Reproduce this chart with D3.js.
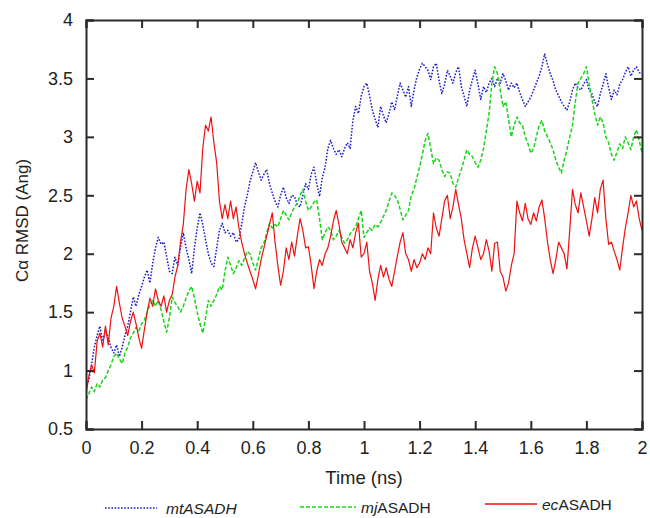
<!DOCTYPE html>
<html>
<head>
<meta charset="utf-8">
<script src="https://cdn.jsdelivr.net/npm/d3@7"></script>
<style>
  html, body { margin: 0; padding: 0; background: #fff; }
  svg { display: block; font-family: "Liberation Sans", Arial, Helvetica, sans-serif; }
</style>
</head>
<body>
<svg id="chart" width="650" height="518"></svg>
<script>
// Simulation time step (ns) and axis ticks
const timeStep = 0.01;
const xTicks = [0, 0.2, 0.4, 0.6, 0.8, 1, 1.2, 1.4, 1.6, 1.8, 2];
const yTicks = [0.5, 1, 1.5, 2, 2.5, 3, 3.5, 4];

// C-alpha RMSD (Angstrom) sampled every 0.01 ns from 0 to 2 ns
const mtASADH = [
  0.85, 0.92, 1.05, 1.20, 1.30, 1.38, 1.25, 1.35, 1.28, 1.20,
  1.15, 1.22, 1.12, 1.20, 1.30, 1.38, 1.50, 1.63, 1.55, 1.65,
  1.72, 1.80, 1.86, 1.75, 1.92, 2.05, 2.14, 2.08, 2.10, 1.98,
  1.85, 1.83, 1.97, 1.90, 2.05, 2.18, 2.05, 1.95, 1.83, 2.05,
  2.22, 2.35, 2.25, 2.12, 2.00, 1.92, 1.89, 2.05, 2.20, 2.26,
  2.18, 2.20, 2.15, 2.18, 2.10, 2.12, 2.25, 2.40, 2.50, 2.62,
  2.70, 2.78, 2.70, 2.63, 2.68, 2.72, 2.60, 2.52, 2.45, 2.40,
  2.50, 2.57, 2.48, 2.43, 2.50, 2.49, 2.42, 2.40, 2.50, 2.60,
  2.55, 2.68, 2.74, 2.60, 2.49, 2.65, 2.74, 2.90, 2.97, 2.90,
  2.85, 2.89, 2.83, 2.90, 2.95, 2.90, 3.14, 3.26, 3.20, 3.35,
  3.43, 3.46, 3.35, 3.23, 3.15, 3.08, 3.26, 3.18, 3.12, 3.20,
  3.30, 3.23, 3.35, 3.46, 3.40, 3.34, 3.43, 3.26, 3.40, 3.51,
  3.58, 3.63, 3.60, 3.57, 3.49, 3.60, 3.63, 3.48, 3.37, 3.45,
  3.57, 3.52, 3.46, 3.55, 3.60, 3.43, 3.35, 3.26, 3.40, 3.49,
  3.57, 3.45, 3.32, 3.43, 3.38, 3.46, 3.50, 3.43, 3.50, 3.46,
  3.54, 3.48, 3.40, 3.46, 3.42, 3.46, 3.38, 3.32, 3.26, 3.30,
  3.34, 3.40, 3.46, 3.52, 3.60, 3.71, 3.62, 3.54, 3.48, 3.40,
  3.35, 3.30, 3.26, 3.23, 3.30, 3.40, 3.46, 3.42, 3.40, 3.45,
  3.49, 3.40, 3.37, 3.30, 3.26, 3.37, 3.45, 3.54, 3.42, 3.32,
  3.40, 3.36, 3.45, 3.49, 3.55, 3.60, 3.52, 3.57, 3.60, 3.55,
  3.54
];

const mjASADH = [
  0.75, 0.80, 0.86, 0.82, 0.89, 0.86, 0.92, 0.94, 1.00, 1.05,
  1.12, 1.15, 1.10, 1.06, 1.15, 1.20, 1.28, 1.32, 1.37, 1.34,
  1.40, 1.43, 1.50, 1.56, 1.60, 1.55, 1.60, 1.52, 1.42, 1.33,
  1.45, 1.63, 1.58, 1.55, 1.50, 1.55, 1.62, 1.68, 1.72, 1.62,
  1.50, 1.40, 1.32, 1.45, 1.60, 1.55, 1.60, 1.65, 1.72, 1.69,
  1.85, 1.97, 1.90, 1.83, 1.88, 1.94, 1.90, 1.96, 2.02, 2.00,
  1.92, 1.86, 1.95, 2.05, 2.09, 2.18, 2.26, 2.22, 2.25, 2.23,
  2.30, 2.37, 2.33, 2.29, 2.35, 2.40, 2.43, 2.50, 2.55, 2.45,
  2.37, 2.40, 2.44, 2.46, 2.30, 2.12, 2.18, 2.23, 2.20, 2.12,
  2.15, 2.20, 2.14, 2.09, 2.12, 2.17, 2.20, 2.23, 2.30, 2.37,
  2.14, 2.18, 2.22, 2.20, 2.25, 2.23, 2.27, 2.32, 2.37, 2.45,
  2.52, 2.50, 2.46, 2.38, 2.29, 2.33, 2.37, 2.50, 2.55, 2.65,
  2.74, 2.85, 2.97, 3.03, 2.90, 2.77, 2.82, 2.80, 2.72, 2.66,
  2.70, 2.69, 2.60, 2.57, 2.65, 2.72, 2.80, 2.89, 2.85, 2.83,
  2.78, 2.74, 2.80, 2.90, 3.05, 3.20, 3.46, 3.60, 3.54, 3.40,
  3.26, 3.30, 3.15, 3.00, 3.10, 3.17, 3.12, 3.10, 3.00, 2.94,
  2.86, 2.90, 3.00, 3.10, 3.14, 3.05, 3.00, 2.95, 2.89, 2.80,
  2.74, 2.69, 2.80, 2.89, 3.00, 3.10, 3.30, 3.46, 3.50, 3.54,
  3.60, 3.45, 3.32, 3.20, 3.10, 3.17, 3.12, 3.00, 2.95, 2.85,
  2.80, 2.87, 2.94, 2.90, 3.00, 2.95, 2.89, 3.00, 3.06, 2.97,
  2.86
];

const ecASADH = [
  0.80, 0.95, 1.05, 0.98, 1.25, 1.32, 1.20, 1.38, 1.22, 1.45,
  1.55, 1.72, 1.58, 1.45, 1.38, 1.30, 1.42, 1.50, 1.40, 1.28,
  1.19, 1.35, 1.50, 1.62, 1.55, 1.70, 1.60, 1.55, 1.64, 1.50,
  1.60, 1.65, 1.80, 1.90, 2.10, 2.25, 2.55, 2.72, 2.60, 2.45,
  2.62, 2.52, 2.90, 3.10, 3.05, 3.17, 2.95, 2.78, 2.45, 2.30,
  2.42, 2.30, 2.45, 2.30, 2.40, 2.22, 2.10, 2.00, 1.92, 1.85,
  1.78, 1.70, 1.82, 1.95, 2.05, 2.15, 2.25, 2.35, 2.10, 1.90,
  1.73, 1.85, 2.05, 1.95, 2.10, 1.98, 2.15, 2.30, 2.20, 2.05,
  2.06, 1.90, 1.70, 1.85, 1.95, 1.90, 2.00, 2.05, 2.15, 2.28,
  2.37, 2.25, 2.10, 2.05, 2.00, 2.12, 2.05, 2.18, 2.26, 1.97,
  2.00, 2.10, 1.85, 1.75, 1.60, 1.78, 1.90, 1.80, 1.88, 1.78,
  1.72, 1.85, 1.98, 2.10, 2.18, 2.00, 1.95, 1.85, 1.95, 1.88,
  1.92, 2.00, 1.95, 2.05, 2.00, 2.35, 2.22, 2.15, 2.30, 2.45,
  2.50, 2.30, 2.40, 2.55, 2.42, 2.30, 2.12, 2.00, 1.88, 2.05,
  2.15, 2.05, 1.95, 2.00, 2.12, 2.02, 1.85, 2.09, 2.10, 1.85,
  1.80, 1.68, 1.75, 1.90, 2.00, 2.45, 2.35, 2.28, 2.43, 2.30,
  2.25, 2.35, 2.28, 2.40, 2.46, 2.30, 2.10, 1.95, 1.83, 1.95,
  2.10, 2.05, 2.00, 1.87, 2.20, 2.55, 2.42, 2.35, 2.52, 2.40,
  2.28, 2.15, 2.30, 2.48, 2.35, 2.55, 2.63, 2.30, 2.08, 2.10,
  2.02, 1.95, 1.86, 2.05, 2.22, 2.35, 2.50, 2.40, 2.45, 2.30,
  2.20
];

const svg = d3.select("#chart");
const margin = { left: 86, top: 20, right: 8, bottom: 89 };
const W = 650, H = 518;
const plotW = W - margin.left - margin.right;
const plotH = H - margin.top - margin.bottom;

const x = d3.scaleLinear().domain([0, 2]).range([margin.left, margin.left + plotW]);
const y = d3.scaleLinear().domain([0.5, 4]).range([margin.top + plotH, margin.top]);

const toPoints = arr => arr.map((v, i) => [i * timeStep, v]);

const series = [
  { name: "mt", values: mtASADH, color: "#1a1ad0", dash: "1.6,1.6", width: 1.5 },
  { name: "mj", values: mjASADH, color: "#19d419", dash: "4,2", width: 1.5 },
  { name: "ec", values: ecASADH, color: "#ee1111", dash: null, width: 1.2 }
];

const line = d3.line().x(d => x(d[0])).y(d => y(d[1]));

const plot = svg.append("g");
plot.append("defs").append("clipPath").attr("id", "clip")
  .append("rect").attr("x", margin.left).attr("y", margin.top)
  .attr("width", plotW).attr("height", plotH);

const lines = plot.append("g").attr("clip-path", "url(#clip)");
series.forEach(s => {
  lines.append("path")
    .datum(toPoints(s.values))
    .attr("fill", "none")
    .attr("stroke", s.color)
    .attr("stroke-width", s.width)
    .attr("stroke-dasharray", s.dash)
    .attr("stroke-linejoin", "round")
    .attr("d", line);
});

// Axes with inward ticks on all four sides
const tickLen = 8;
const axisColor = "#2a2a2a";
const fmt = d => d3.format("~g")(d);

const axisBottomG = svg.append("g").attr("transform", `translate(0,${margin.top + plotH})`)
  .call(d3.axisBottom(x).tickValues(xTicks).tickSize(-tickLen).tickPadding(12).tickFormat(fmt));
const axisTopG = svg.append("g").attr("transform", `translate(0,${margin.top})`)
  .call(d3.axisTop(x).tickValues(xTicks).tickSize(-tickLen).tickFormat(""));
const axisLeftG = svg.append("g").attr("transform", `translate(${margin.left},0)`)
  .call(d3.axisLeft(y).tickValues(yTicks).tickSize(-tickLen).tickPadding(13).tickFormat(fmt));
const axisRightG = svg.append("g").attr("transform", `translate(${margin.left + plotW},0)`)
  .call(d3.axisRight(y).tickValues(yTicks).tickSize(-tickLen).tickFormat(""));

[axisBottomG, axisTopG, axisLeftG, axisRightG].forEach(g => {
  g.select(".domain").attr("stroke", axisColor).attr("stroke-width", 2);
  g.selectAll(".tick line").attr("stroke", axisColor).attr("stroke-width", 2);
  g.selectAll(".tick text").attr("fill", "#222").attr("font-size", 18)
    .attr("font-family", "'Liberation Sans', Arial, sans-serif");
});

// Axis titles
svg.append("text")
  .attr("x", margin.left + plotW / 2).attr("y", 484)
  .attr("text-anchor", "middle").attr("font-size", 18.5).attr("fill", "#222")
  .text("Time (ns)");

svg.append("text")
  .attr("transform", `translate(28,${margin.top + plotH / 2 - 4}) rotate(-90)`)
  .attr("text-anchor", "middle").attr("font-size", 17).attr("fill", "#222")
  .text("Cα RMSD (Ang)");

// Legend
const legend = [
  { s: series[0], x1: 105, x2: 157, ly: 508, tx: 166, pre: "mtASADH", post: "" },
  { s: series[1], x1: 300, x2: 356, ly: 507, tx: 361, pre: "mj", post: "ASADH" },
  { s: series[2], x1: 485, x2: 537, ly: 504, tx: 542, pre: "ec", post: "ASADH" }
];
legend.forEach(l => {
  svg.append("line")
    .attr("x1", l.x1).attr("x2", l.x2).attr("y1", l.ly).attr("y2", l.ly)
    .attr("stroke", l.s.color).attr("stroke-width", 1.5)
    .attr("stroke-dasharray", l.s.dash);
  const t = svg.append("text").attr("x", l.tx).attr("y", l.ly + 5.5)
    .attr("font-size", 15.5).attr("fill", "#222");
  t.append("tspan").attr("font-style", "italic").text(l.pre);
  if (l.post) t.append("tspan").text(l.post);
});
</script>
</body>
</html>
